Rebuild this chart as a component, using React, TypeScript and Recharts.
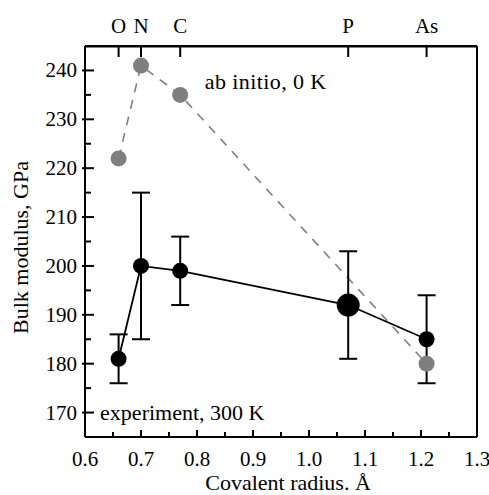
import React from "react";
import {
  ComposedChart,
  Line,
  XAxis,
  YAxis,
  ErrorBar,
  ReferenceLine,
  ReferenceDot,
} from "recharts";

const elements = ["O", "N", "C", "P", "As"];
const radii = [0.66, 0.7, 0.77, 1.07, 1.21];
const expModulus = [181, 200, 199, 192, 185];
const expError = [5, 15, 7, 11, 9];
const expBig = [false, false, false, true, false];

const abInitioRadii = [0.66, 0.7, 0.77, 1.21];
const abInitioModulus = [222, 241, 235, 180];

const xTicks = [0.6, 0.65, 0.7, 0.75, 0.8, 0.85, 0.9, 0.95, 1.0, 1.05, 1.1, 1.15, 1.2, 1.25, 1.3];
const yTicks = [170, 175, 180, 185, 190, 195, 200, 205, 210, 215, 220, 225, 230, 235, 240];

const expData = radii.map((r, i) => ({
  x: r,
  y: expModulus[i],
  err: [expError[i], expError[i]],
  big: expBig[i],
}));
const abData = abInitioRadii.map((r, i) => ({ x: r, y: abInitioModulus[i] }));

const font = "'Liberation Serif', 'Times New Roman', serif";
const txt = { fontFamily: font, fontSize: 21, fill: "#000" };
const big = { ...txt, fontSize: 22 };
const gray = "#7f7f7f";

const isMajorX = (v: number) => Math.abs(v * 10 - Math.round(v * 10)) < 1e-6;

const BottomTick = ({ x, y, payload }: any) => {
  const major = isMajorX(payload.value);
  return (
    <g>
      <line x1={x} y1={y} x2={x} y2={y - (major ? 7 : 5)} stroke="#000" strokeWidth={2} />
      {major && (
        <text x={x} y={y + 22} textAnchor="middle" dominantBaseline="central" fill="#000" style={txt}>
          {payload.value.toFixed(1)}
        </text>
      )}
    </g>
  );
};

const LeftTick = ({ x, y, payload }: any) => {
  const major = payload.value % 10 === 0;
  return (
    <g>
      <line x1={major ? x - 3 : x} y1={y} x2={x + (major ? 9 : 6)} y2={y} stroke="#000" strokeWidth={2} />
      {major && (
        <text x={x - 8} y={y} textAnchor="end" dominantBaseline="central" fill="#000" style={txt}>
          {payload.value}
        </text>
      )}
    </g>
  );
};

const TopTick = ({ x, y, index }: any) => (
  <g>
    <line x1={x} y1={y} x2={x} y2={y + 11} stroke="#000" strokeWidth={2} />
    <text x={x} y={y - 20} textAnchor="middle" dominantBaseline="central" fill="#000" style={txt}>
      {elements[index]}
    </text>
  </g>
);

const ExpDot = ({ cx, cy, payload }: any) => (
  <circle cx={cx} cy={cy} r={payload.big ? 11.5 : 8} fill="#000" />
);

const AbDot = ({ cx, cy }: any) => <circle cx={cx} cy={cy} r={8} fill={gray} />;

const note = (value: string, spacing: number) => ({ viewBox }: any) => (
  <text x={viewBox.x} y={viewBox.y} dominantBaseline="central" fill="#000" style={{ ...big, letterSpacing: spacing }}>
    {value}
  </text>
);

const XTitle = ({ viewBox }: any) => (
  <text x={viewBox.x + viewBox.width / 2 + 7} y={viewBox.y + viewBox.height - 5} textAnchor="middle" fill="#000" style={big}>
    Covalent radius. Å
  </text>
);

const YTitle = ({ viewBox }: any) => {
  const cx = viewBox.x + 20;
  const cy = viewBox.y + viewBox.height / 2 + 6;
  return (
    <text x={cx} y={cy} transform={`rotate(-90 ${cx} ${cy})`} textAnchor="middle" dominantBaseline="central" fill="#000" style={big}>
      Bulk modulus, GPa
    </text>
  );
};

export default function App() {
  return (
    <div style={{ position: "absolute", left: 0, top: 0, width: 489, height: 495, background: "#fff" }}>
      <ComposedChart width={489} height={495} margin={{ top: 0, right: 12, bottom: 0, left: 0 }}>
        <XAxis
          xAxisId="b"
          dataKey="x"
          type="number"
          domain={[0.6, 1.3]}
          ticks={xTicks}
          interval={0}
          allowDataOverflow
          height={58}
          tickSize={0}
          tickMargin={0}
          tickLine={false}
          axisLine={{ stroke: "#000", strokeWidth: 2 }}
          tick={<BottomTick />}
          label={{ content: <XTitle /> }}
        />
        <XAxis
          xAxisId="t"
          dataKey="x"
          orientation="top"
          type="number"
          domain={[0.6, 1.3]}
          ticks={radii}
          interval={0}
          allowDataOverflow
          height={46}
          tickSize={0}
          tickMargin={0}
          tickLine={false}
          axisLine={{ stroke: "#000", strokeWidth: 2 }}
          tick={<TopTick />}
        />
        <YAxis
          yAxisId="l"
          type="number"
          domain={[165, 245]}
          ticks={yTicks}
          interval={0}
          allowDataOverflow
          width={85}
          tickSize={0}
          tickMargin={0}
          tickLine={false}
          axisLine={{ stroke: "#000", strokeWidth: 2 }}
          tick={<LeftTick />}
          label={{ content: <YTitle /> }}
        />
        <ReferenceLine xAxisId="b" yAxisId="l" x={1.3} stroke="#000" strokeWidth={2} />
        <ReferenceLine xAxisId="b" yAxisId="l" y={244.9} stroke="#000" strokeWidth={2} />
        <Line
          xAxisId="t"
          yAxisId="l"
          data={abData}
          dataKey="y"
          stroke={gray}
          strokeWidth={1.6}
          strokeDasharray="9 8"
          dot={<AbDot />}
          activeDot={false}
          isAnimationActive={false}
        />
        <Line
          xAxisId="b"
          yAxisId="l"
          data={expData}
          dataKey="y"
          stroke="#000"
          strokeWidth={1.8}
          dot={<ExpDot />}
          activeDot={false}
          isAnimationActive={false}
        >
          <ErrorBar dataKey="err" direction="y" width={9} stroke="#000" strokeWidth={2} />
        </Line>
        <ReferenceDot xAxisId="b" yAxisId="l" x={0.814} y={237.7} r={0} fill="none" stroke="none" label={note("ab initio, 0 K", 0.4)} />
        <ReferenceDot xAxisId="b" yAxisId="l" x={0.627} y={170} r={0} fill="none" stroke="none" label={note("experiment, 300 K", 0)} />
      </ComposedChart>
    </div>
  );
}
